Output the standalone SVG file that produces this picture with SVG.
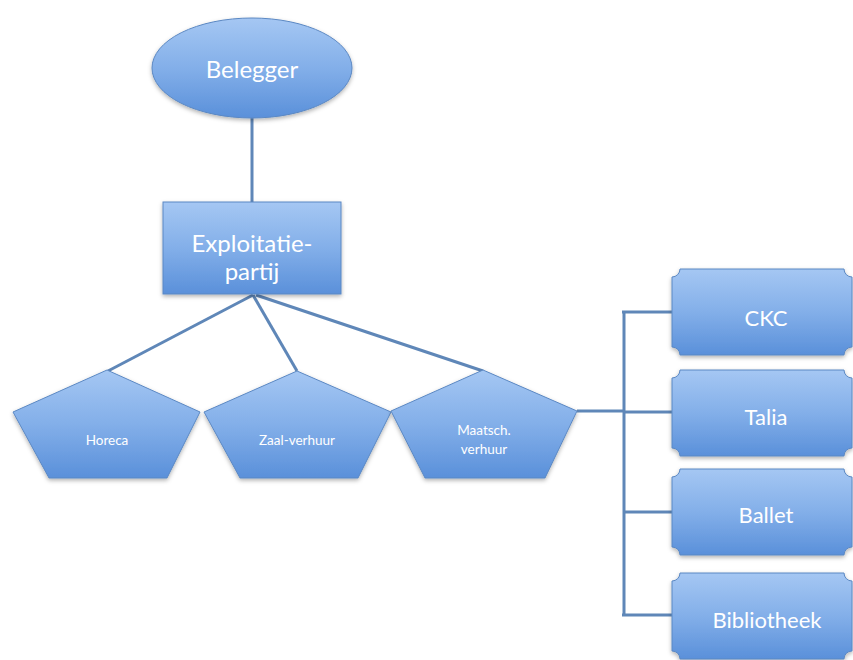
<svg xmlns="http://www.w3.org/2000/svg" width="853" height="660" viewBox="0 0 853 660">
<defs>
<linearGradient id="g" x1="0" y1="0" x2="0" y2="1">
<stop offset="0" stop-color="#a5c7f3"/>
<stop offset="0.5" stop-color="#83afe9"/>
<stop offset="1" stop-color="#5a90da"/>
</linearGradient>
<filter id="sh" x="-10%" y="-10%" width="120%" height="130%">
<feDropShadow dx="0" dy="2" stdDeviation="2" flood-color="#000" flood-opacity="0.3"/>
</filter>
</defs>
<style>
.n{fill:url(#g);stroke:#5b88c3;stroke-width:1;filter:url(#sh)}
.c{fill:none;stroke:#5f87b8;stroke-width:3}
.t{font-family:Lato,"Open Sans",sans-serif;fill:#ffffff;text-anchor:middle;dominant-baseline:central}
.big{font-size:24px}
.sm{font-size:13.5px}
.bx{font-size:22px}
</style>
<rect width="853" height="660" fill="#ffffff"/>
<g id="connectors">
<line class="c" x1="252" y1="118" x2="252" y2="202"/>
<line class="c" x1="253" y1="295" x2="108" y2="371"/>
<line class="c" x1="253" y1="295" x2="297" y2="371"/>
<line class="c" x1="256" y1="295" x2="483" y2="371"/>
<polyline class="c" points="577,411 624,411"/>
<line class="c" x1="624" y1="312" x2="624" y2="616"/>
<line class="c" x1="622" y1="312" x2="672" y2="312"/>
<line class="c" x1="624" y1="412" x2="672" y2="412"/>
<line class="c" x1="624" y1="512" x2="672" y2="512"/>
<line class="c" x1="622" y1="615" x2="672" y2="615"/>
</g>
<g id="belegger">
<ellipse class="n" cx="252" cy="68" rx="100" ry="50"/>
<text class="t big" x="252" y="68">Belegger</text>
</g>
<g id="exploitatie">
<rect class="n" x="163" y="202" width="178" height="92"/>
<text class="t big" x="252" y="242">Exploitatie-</text>
<text class="t big" x="252" y="270">partij</text>
</g>
<g id="horeca">
<polygon class="n" points="107,370 200,412 167,478 49,478 13,412"/>
<text class="t sm" x="107" y="440">Horeca</text>
</g>
<g id="zaal">
<polygon class="n" points="297,371 391,412 358,478 240,478 204,412"/>
<text class="t sm" x="297" y="440">Zaal-verhuur</text>
</g>
<g id="maatsch">
<polygon class="n" points="483,370 577,411 545,478 425,478 391,411"/>
<text class="t sm" x="484" y="430">Maatsch.</text>
<text class="t sm" x="484" y="449">verhuur</text>
</g>
<g id="ckc">
<path class="n" d="M680,269 H844 A8 8 0 0 0 852,277 V347 A8 8 0 0 0 844,355 H680 A8 8 0 0 0 672,347 V277 A8 8 0 0 0 680,269 Z"/>
<text class="t bx" x="766" y="317">CKC</text>
</g>
<g id="talia">
<path class="n" d="M680,370 H844 A8 8 0 0 0 852,378 V448 A8 8 0 0 0 844,456 H680 A8 8 0 0 0 672,448 V378 A8 8 0 0 0 680,370 Z"/>
<text class="t bx" x="766" y="416">Talia</text>
</g>
<g id="ballet">
<path class="n" d="M680,469 H844 A8 8 0 0 0 852,477 V547 A8 8 0 0 0 844,555 H680 A8 8 0 0 0 672,547 V477 A8 8 0 0 0 680,469 Z"/>
<text class="t bx" x="766" y="514">Ballet</text>
</g>
<g id="bibliotheek">
<path class="n" d="M680,573 H844 A8 8 0 0 0 852,581 V651 A8 8 0 0 0 844,659 H680 A8 8 0 0 0 672,651 V581 A8 8 0 0 0 680,573 Z"/>
<text class="t bx" x="767" y="619">Bibliotheek</text>
</g>
</svg>
